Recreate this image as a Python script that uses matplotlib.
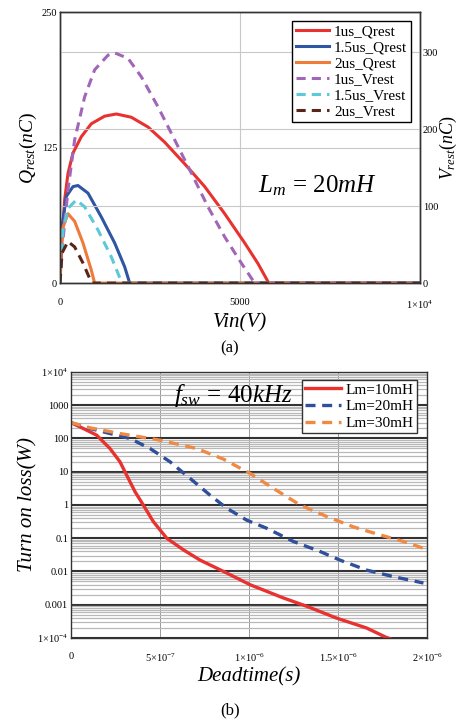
import numpy as np
import matplotlib
matplotlib.use("Agg")
import matplotlib.pyplot as plt
from matplotlib.ticker import FixedLocator, LogLocator, NullFormatter

plt.rcParams['font.family'] = ['Liberation Serif', 'DejaVu Serif']
plt.rcParams['mathtext.fontset'] = 'custom'
plt.rcParams['mathtext.rm'] = 'Liberation Serif'
plt.rcParams['mathtext.it'] = 'Liberation Serif:italic'

# (a) residual charge (nC) and residual voltage vs input voltage
vin_q1 = [0, 56, 130, 222, 361, 592, 870, 1241, 1565, 1981, 2445, 2908,
          3464, 4020, 4575, 5131, 5500, 5800, 10000]
q_1us = [0, 40, 77, 101, 120, 135, 147, 154, 156, 153, 144, 130,
         110, 89, 64, 37, 18, 0, 0]
vin_q15 = [0, 56, 176, 361, 500, 778, 1148, 1519, 1797, 1936, 10000]
q_15us = [0, 52, 80, 89, 90, 83, 61, 37, 15, 0, 0]
vin_q2 = [0, 56, 222, 407, 639, 870, 963, 10000]
q_2us = [0, 49, 64, 57, 37, 12, 0, 0]

vin_v1 = [0, 83, 222, 407, 686, 963, 1333, 1519, 1889, 2259, 2722, 3186,
          3648, 4111, 4575, 5037, 5408, 10000]
v_1us = [0, 56, 121, 186, 242, 277, 296, 299, 292, 268, 229, 186,
         143, 99, 60, 26, 0, 0]
vin_v15 = [0, 83, 222, 454, 686, 1056, 1426, 1720, 10000]
v_15us = [0, 69, 97, 108, 99, 69, 34, 0, 0]
vin_v2 = [0, 56, 222, 407, 639, 880, 10000]
v_2us = [0, 39, 54, 47, 26, 0, 0]

# (b) turn-on loss (W) vs deadtime (s)
dt_10 = [0, 6.9e-8, 1.44e-7, 2.19e-7, 2.75e-7, 3.22e-7, 3.6e-7, 4.06e-7,
         4.62e-7, 5.38e-7, 6.31e-7, 7.25e-7, 8.75e-7, 1.006e-6, 1.193e-6,
         1.324e-6, 1.49e-6, 1.66e-6, 1.77e-6, 1.9e-6]
loss_10 = [300, 200, 126, 50, 20, 6.3, 2.5, 1.0, 0.32, 0.1, 0.045, 0.022,
           0.009, 0.004, 0.0016, 9e-4, 4e-4, 2e-4, 1.05e-4, 6e-5]
dt_20 = [0, 1.07e-7, 2.19e-7, 3.31e-7, 4.44e-7, 5.56e-7, 6.69e-7, 7.8e-7,
         8.75e-7, 9.87e-7, 1.099e-6, 1.249e-6, 1.399e-6, 1.511e-6,
         1.661e-6, 1.811e-6, 1.98e-6]
loss_20 = [300, 200, 141, 100, 50, 20, 6.3, 2.0, 0.8, 0.35, 0.2, 0.08,
           0.04, 0.022, 0.011, 0.007, 0.0045]
dt_30 = [0, 1.07e-7, 2.75e-7, 5.0e-7, 7.06e-7, 8.56e-7, 1.006e-6, 1.137e-6,
         1.287e-6, 1.437e-6, 1.586e-6, 1.736e-6, 1.867e-6, 1.98e-6]
loss_30 = [300, 209, 141, 89, 50, 24, 8.9, 3.16, 1.0, 0.45, 0.22, 0.126,
           0.08, 0.05]

fig = plt.figure(figsize=(4.6, 7.24), dpi=100)

# ---------- panel (a) ----------
ax = fig.add_axes([0.1304, 0.609, 0.7826, 0.3743])
ax2 = ax.twinx()

dash = (0, (3, 2))
l1, = ax.plot(vin_q1, q_1us, color='#e8322f', lw=2.2, label='1us_Qrest')
l2, = ax.plot(vin_q15, q_15us, color='#2f55a5', lw=2.2, label='1.5us_Qrest')
l3, = ax.plot(vin_q2, q_2us, color='#ef7a3a', lw=2.2, label='2us_Qrest')
l4, = ax2.plot(vin_v1, v_1us, color='#a266b8', lw=2.2, ls=dash, label='1us_Vrest')
l5, = ax2.plot(vin_v15, v_15us, color='#5cc8d8', lw=2.2, ls=dash, label='1.5us_Vrest')
l6, = ax2.plot(vin_v2, v_2us, color='#5a2418', lw=2.2, ls=dash, label='2us_Vrest')

ax.set_xlim(0, 10000)
ax.set_ylim(0, 250)
ax2.set_ylim(0, 352)
ax.set_xticks([0, 5000, 10000])
ax.set_xticklabels(['0', '5000', r'1$\times$10$^4$'])
ax.set_yticks([0, 125, 250])
ax2.set_yticks([0, 100, 200, 300])
ax.tick_params(axis='x', labelsize=7.5, length=0, pad=11)
ax.tick_params(axis='y', labelsize=7.5, length=0, pad=2)
ax2.tick_params(labelsize=7.5, length=0, pad=2)
ax.grid(True, color='#c8c8c8', lw=0.8)
ax2.grid(True, axis='y', color='#c8c8c8', lw=0.8)
ax.set_axisbelow(True)
for a in (ax, ax2):
    for s in a.spines.values():
        s.set_color('#333333')
        s.set_linewidth(1.0)

ax.set_xlabel('Vin(V)', fontstyle='italic', fontsize=15, labelpad=2)
ax.set_ylabel(r'$Q_{rest}(nC)$', fontsize=14, labelpad=2)
ax2.set_ylabel(r'$V_{rest}(nC)$', fontsize=13, labelpad=0)

leg = ax2.legend(handles=[l1, l2, l3, l4, l5, l6], loc='upper right',
                 bbox_to_anchor=(0.975, 0.967), fontsize=11, frameon=True,
                 fancybox=False, edgecolor='black', framealpha=1,
                 handlelength=2.2, handletextpad=0.3, labelspacing=0.15,
                 borderpad=0.25, borderaxespad=0)
leg.get_frame().set_linewidth(1.0)

ax.text(0.715, 0.36, r'$L_m\,=\,20mH$', transform=ax.transAxes, fontsize=18,
        ha='center', va='center')

fig.text(0.5, 0.519, '(a)', ha='center', va='center', fontsize=12)

# ---------- panel (b) ----------
bx = fig.add_axes([0.1543, 0.1188, 0.774, 0.3674])
bx.plot(dt_10, loss_10, color='#e8322f', lw=2.4, label='Lm=10mH')
bx.plot(dt_20, loss_20, color='#2f4f9a', lw=2.4, ls=dash, label='Lm=20mH')
bx.plot(dt_30, loss_30, color='#ef8a45', lw=2.4, ls=dash, label='Lm=30mH')

bx.set_yscale('log')
bx.set_xlim(0, 2e-6)
bx.set_ylim(1e-4, 1e4)
bx.yaxis.set_major_locator(FixedLocator([1e-4, 1e-3, 1e-2, 1e-1, 1, 10, 100, 1000, 1e4]))
bx.set_yticklabels([r'1$\times$10$^{-4}$', '0.001', '0.01', '0.1', '1', '10',
                    '100', '1000', r'1$\times$10$^4$'])
bx.yaxis.set_minor_locator(LogLocator(base=10, subs=np.arange(2, 10), numticks=20))
bx.yaxis.set_minor_formatter(NullFormatter())
bx.set_xticks([0, 5e-7, 1e-6, 1.5e-6, 2e-6])
bx.set_xticklabels(['0', r'5$\times$10$^{-7}$', r'1$\times$10$^{-6}$',
                    r'1.5$\times$10$^{-6}$', r'2$\times$10$^{-6}$'])
bx.tick_params(axis='x', which='both', labelsize=7.5, length=0, pad=10)
bx.tick_params(axis='y', which='both', labelsize=7.5, length=0, pad=2)
bx.grid(True, which='minor', axis='y', color='#b8b8b8', lw=0.9)
bx.grid(True, which='major', axis='y', color='#333333', lw=1.5)
bx.grid(True, which='major', axis='x', color='#999999', lw=0.7)
bx.set_axisbelow(True)
for s in bx.spines.values():
    s.set_color('#333333')
    s.set_linewidth(1.0)

bx.set_xlabel('Deadtime(s)', fontstyle='italic', fontsize=15, labelpad=2)
bx.set_ylabel('Turn on loss(W)', fontstyle='italic', fontsize=15, labelpad=0)

leg2 = bx.legend(loc='upper right', bbox_to_anchor=(0.972, 0.97), fontsize=11,
                 frameon=True, fancybox=False, edgecolor='#333333',
                 framealpha=1, handlelength=2.4, handletextpad=0.3,
                 labelspacing=0.2, borderpad=0.2, borderaxespad=0)
leg2.get_frame().set_linewidth(1.0)

bx.text(0.455, 0.91, r'$f_{sw}\,=\,40kHz$', transform=bx.transAxes,
        fontsize=18, ha='center', va='center')

fig.text(0.5, 0.019, '(b)', ha='center', va='center', fontsize=12)

fig.savefig('out.png', dpi=100)
